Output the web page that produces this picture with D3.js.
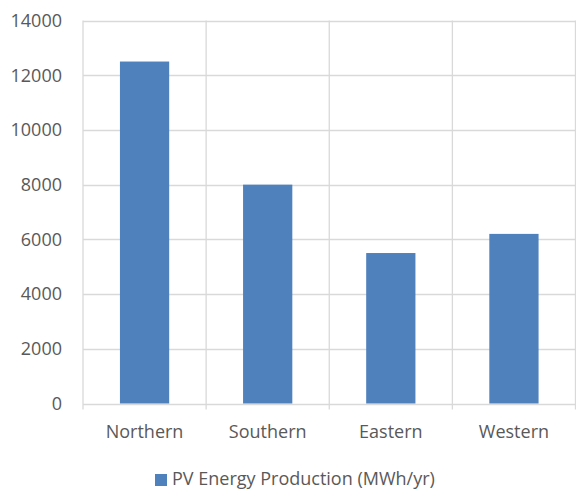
<!DOCTYPE html>
<html>
<head>
<meta charset="utf-8">
<script src="https://cdn.jsdelivr.net/npm/d3@7"></script>
<style>
  html, body { margin: 0; padding: 0; background: #fff; }
  svg { display: block; }
  text { font-family: "Open Sans", "Noto Sans", sans-serif; fill: #595959; }
</style>
</head>
<body>
<svg id="chart" width="576" height="490"></svg>
<script>
// Annual PV energy production by region
const categories = ["Northern", "Southern", "Eastern", "Western"];
const production = [12500, 8000, 5500, 6200];
const yTicks = [0, 2000, 4000, 6000, 8000, 10000, 12000, 14000];
const seriesName = "PV Energy Production (MWh/yr)";

const svg = d3.select("#chart");
const margin = { left: 83, right: 0.5, top: 20.5, bottom: 86.5 };
const W = 576, H = 490;

const x = d3.scaleBand()
  .domain(categories)
  .range([margin.left, W - margin.right])
  .paddingInner(0.6)
  .paddingOuter(0.3);

const xBand = d3.scaleBand()
  .domain(categories)
  .range([margin.left, W - margin.right]);

const y = d3.scaleLinear()
  .domain([0, 14000])
  .range([H - margin.bottom, margin.top]);

const grid = "#d9d9d9";

// horizontal gridlines
svg.append("g")
  .selectAll("line")
  .data(yTicks)
  .join("line")
  .attr("x1", margin.left)
  .attr("x2", W - margin.right)
  .attr("y1", d => Math.round(y(d)) + 0.5)
  .attr("y2", d => Math.round(y(d)) + 0.5)
  .attr("stroke", grid)
  .attr("stroke-width", 1.3);

// vertical category dividers, extending below the axis as tick marks
const edges = categories.map(c => xBand(c)).concat([W - margin.right]);
svg.append("g")
  .selectAll("line")
  .data(edges)
  .join("line")
  .attr("x1", d => d)
  .attr("x2", d => d)
  .attr("y1", margin.top)
  .attr("y2", y(0) + 6)
  .attr("stroke", grid)
  .attr("stroke-width", 1.3);

// bars
svg.append("g")
  .selectAll("rect")
  .data(categories)
  .join("rect")
  .attr("x", d => x(d))
  .attr("width", x.bandwidth())
  .attr("y", (d, i) => y(production[i]))
  .attr("height", (d, i) => y(0) - y(production[i]))
  .attr("fill", "#4f81bd");

// y-axis labels
svg.append("g")
  .selectAll("text")
  .data(yTicks)
  .join("text")
  .attr("x", 62)
  .attr("y", d => y(d))
  .attr("dy", "0.35em")
  .attr("text-anchor", "end")
  .attr("font-size", 18)
  .text(d => d);

// category labels
svg.append("g")
  .selectAll("text")
  .data(categories)
  .join("text")
  .attr("x", d => xBand(d) + xBand.bandwidth() / 2)
  .attr("y", 438)
  .attr("text-anchor", "middle")
  .attr("font-size", 18)
  .text(d => d);

// legend
const lg = svg.append("g").attr("transform", "translate(155,474)");
lg.append("rect").attr("width", 12).attr("height", 12).attr("fill", "#4f81bd");
lg.append("text")
  .attr("x", 17)
  .attr("y", 11)
  .attr("font-size", 18)
  .text(seriesName);
</script>
</body>
</html>
